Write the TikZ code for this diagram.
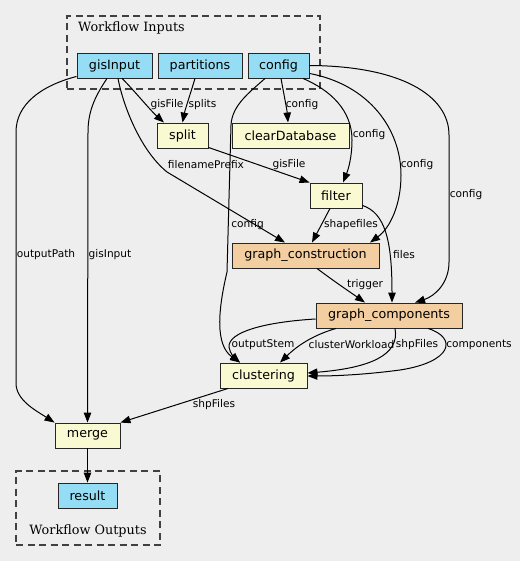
\documentclass[tikz,border=0pt]{standalone}
\usepackage{fontspec}
\setmainfont{DejaVu Sans}
\newfontfamily\clfont{DejaVu Serif}
\usetikzlibrary{arrows.meta}
\definecolor{bg}{HTML}{EEEEEE}
\definecolor{inblue}{HTML}{94DDF4}
\definecolor{stepy}{HTML}{FAFAD2}
\definecolor{subo}{HTML}{F3CEA1}
\begin{document}
\begin{tikzpicture}[x=1pt,y=-1pt,
  box/.style={draw=black!85, line width=0.9pt, minimum height=25pt, inner sep=0pt, font=\fontsize{12.7}{15}\selectfont},
  io/.style={box, fill=inblue},
  stepbox/.style={box, fill=stepy},
  sub/.style={box, fill=subo},
  e/.style={line width=1pt, -{Triangle[length=10pt,width=7.5pt]}},
  lbl/.style={inner sep=0pt, font=\fontsize{10.6}{12}\selectfont},
  cluster/.style={draw=black!75, dash pattern=on 7pt off 4.5pt, line width=1.2pt, inner sep=0pt},
  cl/.style={inner sep=0pt, font=\clfont\fontsize{12.8}{15}\selectfont}]
\fill[bg] (0,0) rectangle (520,561);
\useasboundingbox (0,0) rectangle (520,561);
% clusters
\node[cluster, minimum width=253pt, minimum height=73pt] (inputs) at (193.5,52.5) {};
\node[cluster, minimum width=144pt, minimum height=74pt] (outputs) at (88,508) {};
\node[cl, anchor=west] (inlbl) at (78,28) {Workflow Inputs};
\node[cl] (outlbl) at (88,531) {Workflow Outputs};
% nodes
\node[io, minimum width=75pt] (gisInput) at (114.5,65.5) {gisInput};
\node[io, minimum width=84pt] (partitions) at (200,65.5) {partitions};
\node[io, minimum width=61pt] (config) at (278.5,65.5) {config};
\node[stepbox, minimum width=51pt] (split) at (182.5,135.5) {split};
\node[stepbox, minimum width=117pt] (clearDatabase) at (290.5,135.5) {clearDatabase};
\node[stepbox, minimum width=52pt] (filter) at (336,195.5) {filter};
\node[sub, minimum width=147pt] (graphcons) at (305.5,255.5) {graph\_construction};
\node[sub, minimum width=146pt] (graphcomp) at (389,315.5) {graph\_components};
\node[stepbox, minimum width=87pt] (clustering) at (263.5,375.5) {clustering};
\node[stepbox, minimum width=65pt] (merge) at (87.5,435.5) {merge};
\node[io, minimum width=59pt] (result) at (87.5,495.5) {result};
% edges
\draw[e] ([yshift=2pt]gisInput.south west) .. controls (40,86) and (16,105) .. (16,132) -- (16,383) .. controls (16,400) and (35,410) .. (merge.north west);
\draw[e] ([xshift=-7.5pt]gisInput.south) .. controls (96,95) and (88,110) .. (88,132) -- (merge.north);
\draw[e] ([xshift=7.5pt]gisInput.south) .. controls (132,88) and (150,110) .. ([xshift=-18.5pt]split.north);
\draw[e] ([xshift=3.5pt]gisInput.south) .. controls (123,105) and (140,150) .. (167,172) -- ([xshift=-20.5pt]graphcons.north);
\draw[e] ([xshift=-5pt]partitions.south) .. controls (190,95) and (185,110) .. (split.north);
\draw[e] ([xshift=2.5pt]config.south) .. controls (284,95) and (287,110) .. ([xshift=-2.5pt]clearDatabase.north);
\draw[e] ([xshift=-13.5pt]config.south) .. controls (250,92) and (232,105) .. (231,125) -- (227,272) .. controls (218,310) and (215,345) .. ([xshift=-23.5pt]clustering.north);
\draw[e] ([xshift=24.5pt]config.south) .. controls (330,90) and (352,110) .. (352,140) .. controls (352,158) and (348,170) .. ([xshift=7pt]filter.north);
\draw[e] ([yshift=5pt]config.south east) .. controls (370,85) and (401,130) .. (401,175) .. controls (401,205) and (390,228) .. ([xshift=64.5pt]graphcons.north);
\draw[e] (config.east) .. controls (400,66) and (449,95) .. (449,135) -- (449,262) .. controls (449,283) and (435,296) .. ([xshift=26pt]graphcomp.north);
\draw[e] ([yshift=1pt]split.south east) -- (filter.north west);
\draw[e] ([xshift=-6pt]filter.south) -- ([xshift=6.5pt]graphcons.north);
\draw[e] ([yshift=3pt]filter.south east) .. controls (385,213) and (392,240) .. ([xshift=3pt]graphcomp.north);
\draw[e] ([xshift=11.5pt]graphcons.south) .. controls (335,282) and (350,292) .. ([xshift=-24pt]graphcomp.north);
\draw[e] ([yshift=-3.5pt]graphcomp.west) .. controls (265,322) and (228,332) .. (229,347) .. controls (230,354) and (235,358) .. ([xshift=-23.5pt]clustering.north);
\draw[e] ([xshift=-53pt]graphcomp.south) .. controls (310,336) and (295,348) .. ([xshift=16.5pt]clustering.north);
\draw[e] ([xshift=6pt]graphcomp.south) .. controls (400,355) and (370,368) .. ([yshift=2.5pt]clustering.east);
\draw[e] ([xshift=39pt]graphcomp.south) .. controls (458,338) and (452,362) .. (400,370) .. controls (370,374) and (340,376) .. ([yshift=-0.5pt]clustering.east);
\draw[e] ([xshift=-35.5pt]clustering.south) -- (merge.north east);
\draw[e] (merge.south) -- (result.north);
% labels
\node[lbl] (l1) at (46,255) {outputPath};
\node[lbl] (l2) at (110,255) {gisInput};
\node[lbl] (l3) at (167,105) {gisFile};
\node[lbl] (l4) at (202.5,105) {splits};
\node[lbl] (l5) at (302,105) {config};
\node[lbl] (l6) at (369,135) {config};
\node[lbl] (l7) at (206,165) {filenamePrefix};
\node[lbl] (l8) at (289,165) {gisFile};
\node[lbl] (l9) at (417,165) {config};
\node[lbl] (l10) at (466,195) {config};
\node[lbl] (l11) at (247.5,225) {config};
\node[lbl] (l12) at (351,225) {shapefiles};
\node[lbl] (l13) at (404,255) {files};
\node[lbl] (l14) at (365,285) {trigger};
\node[lbl] (l15) at (263,345) {outputStem};
\node[lbl] (l16) at (351.5,345) {clusterWorkload};
\node[lbl] (l17) at (417,345) {shpFiles};
\node[lbl] (l18) at (479,345) {components};
\node[lbl] (l19) at (214,405) {shpFiles};
\end{tikzpicture}
\end{document}
